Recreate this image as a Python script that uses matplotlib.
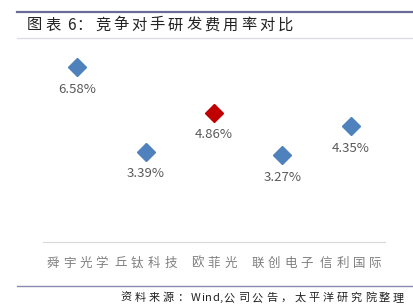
import matplotlib.pyplot as plt
from matplotlib.lines import Line2D

plt.rcParams['font.family'] = ['Noto Sans CJK SC', 'DejaVu Sans']

companies = ['舜宇光学', '丘钛科技', '欧菲光', '联创电子', '信利国际']
rates = [6.58, 3.39, 4.86, 3.27, 4.35]
colors = ['#4f81bd', '#4f81bd', '#c00000', '#4f81bd', '#4f81bd']
title = '图表 6：竞争对手研发费用率对比'
source = '资料来源：Wind,公司公告，太平洋研究院整理'

W, H = 413, 308
fig = plt.figure(figsize=(W / 100, H / 100), dpi=100)
ax = fig.add_axes([0.104, 0.214, 0.828, 0.648])
renderer = fig.canvas.get_renderer()


def spaced_text(x, y, s, size, gap, color, ha='left', style='normal'):
    # draw text char by char with extra letter spacing (x, y in pixels from top-left)
    parts = []
    for ch in s:
        t = fig.text(0, 0, ch, fontsize=size, color=color, style=style, va='center', ha='left')
        if ord(ch) > 127:
            w, g = size * 100 / 72, gap  # full-width glyph: fixed advance
        else:
            w, g = t.get_window_extent(renderer).width, 0.6
        parts.append((t, w, g))
    total = sum(w + g for _, w, g in parts) - parts[-1][2]
    if ha == 'center':
        x = x - total / 2
    elif ha == 'right':
        x = x - total
    for t, w, g in parts:
        t.set_position((x / W, 1 - y / H))
        x += w + g


for i, (v, c) in enumerate(zip(rates, colors)):
    ax.plot(i, v, marker='D', markersize=9, color=c, linestyle='none')
    ax.text(i, v - 0.83, '%.2f%%' % v, ha='center', va='center', fontsize=9.5, color='#595959')

ax.set_xlim(-0.5, len(companies) - 0.5)
ax.set_ylim(0, 7.5)
ax.set_xticks([])
ax.set_yticks([])
for s in ['top', 'left', 'right']:
    ax.spines[s].set_visible(False)
ax.spines['bottom'].set_color('#d9d9d9')

# category labels with letter spacing
for i, name in enumerate(companies):
    px = ax.transData.transform((i, 0))[0]
    spaced_text(px, 263, name, 9, 4, '#7f7f7f', ha='center')

# header and footer lines
fig.add_artist(Line2D([17 / W, 1], [1 - 12 / H, 1 - 12 / H], color='#6b6b9a', linewidth=1.6))
fig.add_artist(Line2D([17 / W, 1], [1 - 38 / H, 1 - 38 / H], color='#dcdce6', linewidth=1.0))
fig.add_artist(Line2D([17 / W, 1], [1 - 286 / H, 1 - 286 / H], color='#8a8ab0', linewidth=1.0))

spaced_text(27, 25, title, 11, 3, '#222222')
spaced_text(404, 298, source, 8, 3, '#222222', ha='right', style='italic')

fig.savefig('out.png', dpi=100)
